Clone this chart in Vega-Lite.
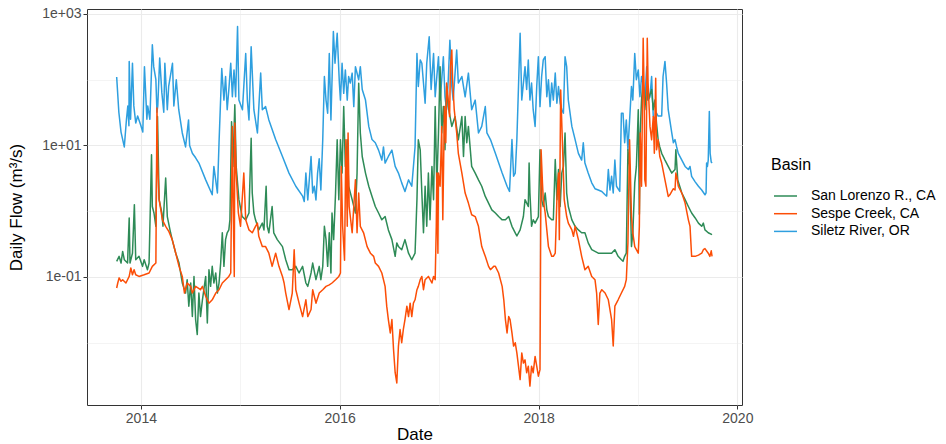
{
  "$schema": "https://vega.github.io/schema/vega-lite/v6.json",
  "width": 655,
  "height": 396,
  "autosize": {"type": "none"},
  "padding": {"left": 87, "top": 9, "right": 204, "bottom": 39},
  "background": "white",
  "config": {
    "view": {"stroke": "#333333", "strokeWidth": 1},
    "font": "Liberation Sans"
  },
  "data": {"values": [
{"basin":"Siletz River, OR","date":"2013-10-04","flow":110},{"basin":"Siletz River, OR","date":"2013-10-12","flow":32},{"basin":"Siletz River, OR","date":"2013-10-20","flow":16},{"basin":"Siletz River, OR","date":"2013-11-01","flow":9.5},{"basin":"Siletz River, OR","date":"2013-11-09","flow":25},{"basin":"Siletz River, OR","date":"2013-11-14","flow":40},{"basin":"Siletz River, OR","date":"2013-11-18","flow":20},{"basin":"Siletz River, OR","date":"2013-11-19","flow":190},{"basin":"Siletz River, OR","date":"2013-11-24","flow":25},{"basin":"Siletz River, OR","date":"2013-12-01","flow":178},{"basin":"Siletz River, OR","date":"2013-12-06","flow":40},{"basin":"Siletz River, OR","date":"2013-12-13","flow":22},{"basin":"Siletz River, OR","date":"2013-12-20","flow":28},{"basin":"Siletz River, OR","date":"2014-01-01","flow":20},{"basin":"Siletz River, OR","date":"2014-01-08","flow":16},{"basin":"Siletz River, OR","date":"2014-01-14","flow":158},{"basin":"Siletz River, OR","date":"2014-01-23","flow":25},{"basin":"Siletz River, OR","date":"2014-01-26","flow":40},{"basin":"Siletz River, OR","date":"2014-02-03","flow":25},{"basin":"Siletz River, OR","date":"2014-02-12","flow":340},{"basin":"Siletz River, OR","date":"2014-02-17","flow":158},{"basin":"Siletz River, OR","date":"2014-02-25","flow":100},{"basin":"Siletz River, OR","date":"2014-03-01","flow":32},{"basin":"Siletz River, OR","date":"2014-03-04","flow":40},{"basin":"Siletz River, OR","date":"2014-03-11","flow":214},{"basin":"Siletz River, OR","date":"2014-03-19","flow":63},{"basin":"Siletz River, OR","date":"2014-03-26","flow":32},{"basin":"Siletz River, OR","date":"2014-03-30","flow":178},{"basin":"Siletz River, OR","date":"2014-04-08","flow":35},{"basin":"Siletz River, OR","date":"2014-04-13","flow":79},{"basin":"Siletz River, OR","date":"2014-04-27","flow":178},{"basin":"Siletz River, OR","date":"2014-05-02","flow":40},{"basin":"Siletz River, OR","date":"2014-05-11","flow":100},{"basin":"Siletz River, OR","date":"2014-05-20","flow":35},{"basin":"Siletz River, OR","date":"2014-06-02","flow":15.5},{"basin":"Siletz River, OR","date":"2014-06-14","flow":9.5},{"basin":"Siletz River, OR","date":"2014-06-25","flow":24.5},{"basin":"Siletz River, OR","date":"2014-06-29","flow":10},{"basin":"Siletz River, OR","date":"2014-07-09","flow":7.6},{"basin":"Siletz River, OR","date":"2014-07-21","flow":6.5},{"basin":"Siletz River, OR","date":"2014-08-02","flow":5.4},{"basin":"Siletz River, OR","date":"2014-08-27","flow":3.0},{"basin":"Siletz River, OR","date":"2014-09-20","flow":1.78},{"basin":"Siletz River, OR","date":"2014-09-26","flow":4.8},{"basin":"Siletz River, OR","date":"2014-10-09","flow":1.9},{"basin":"Siletz River, OR","date":"2014-10-15","flow":11},{"basin":"Siletz River, OR","date":"2014-10-25","flow":148},{"basin":"Siletz River, OR","date":"2014-11-02","flow":49},{"basin":"Siletz River, OR","date":"2014-11-08","flow":112},{"basin":"Siletz River, OR","date":"2014-11-14","flow":35},{"basin":"Siletz River, OR","date":"2014-11-20","flow":71},{"basin":"Siletz River, OR","date":"2014-11-27","flow":178},{"basin":"Siletz River, OR","date":"2014-12-03","flow":55},{"basin":"Siletz River, OR","date":"2014-12-09","flow":141},{"basin":"Siletz River, OR","date":"2014-12-15","flow":55},{"basin":"Siletz River, OR","date":"2014-12-22","flow":646},{"basin":"Siletz River, OR","date":"2014-12-27","flow":49},{"basin":"Siletz River, OR","date":"2015-01-09","flow":35},{"basin":"Siletz River, OR","date":"2015-01-21","flow":251},{"basin":"Siletz River, OR","date":"2015-01-27","flow":49},{"basin":"Siletz River, OR","date":"2015-02-02","flow":24.5},{"basin":"Siletz River, OR","date":"2015-02-10","flow":316},{"basin":"Siletz River, OR","date":"2015-02-20","flow":35},{"basin":"Siletz River, OR","date":"2015-03-05","flow":15.5},{"basin":"Siletz River, OR","date":"2015-03-17","flow":126},{"basin":"Siletz River, OR","date":"2015-03-23","flow":35},{"basin":"Siletz River, OR","date":"2015-04-04","flow":39},{"basin":"Siletz River, OR","date":"2015-04-16","flow":24.5},{"basin":"Siletz River, OR","date":"2015-05-11","flow":12.3},{"basin":"Siletz River, OR","date":"2015-06-05","flow":6.8},{"basin":"Siletz River, OR","date":"2015-06-29","flow":3.8},{"basin":"Siletz River, OR","date":"2015-07-24","flow":2.4},{"basin":"Siletz River, OR","date":"2015-08-18","flow":1.7},{"basin":"Siletz River, OR","date":"2015-08-24","flow":1.41},{"basin":"Siletz River, OR","date":"2015-08-30","flow":3.8},{"basin":"Siletz River, OR","date":"2015-09-06","flow":1.48},{"basin":"Siletz River, OR","date":"2015-09-18","flow":6.8},{"basin":"Siletz River, OR","date":"2015-09-24","flow":1.9},{"basin":"Siletz River, OR","date":"2015-09-30","flow":2.4},{"basin":"Siletz River, OR","date":"2015-10-06","flow":1.48},{"basin":"Siletz River, OR","date":"2015-10-12","flow":3.8},{"basin":"Siletz River, OR","date":"2015-10-18","flow":6.3},{"basin":"Siletz River, OR","date":"2015-10-24","flow":2.1},{"basin":"Siletz River, OR","date":"2015-10-31","flow":12.3},{"basin":"Siletz River, OR","date":"2015-11-06","flow":112},{"basin":"Siletz River, OR","date":"2015-11-12","flow":49},{"basin":"Siletz River, OR","date":"2015-11-18","flow":31},{"basin":"Siletz River, OR","date":"2015-11-24","flow":251},{"basin":"Siletz River, OR","date":"2015-11-30","flow":24.5},{"basin":"Siletz River, OR","date":"2015-12-09","flow":540},{"basin":"Siletz River, OR","date":"2015-12-15","flow":178},{"basin":"Siletz River, OR","date":"2015-12-23","flow":510},{"basin":"Siletz River, OR","date":"2015-12-31","flow":89},{"basin":"Siletz River, OR","date":"2016-01-04","flow":49},{"basin":"Siletz River, OR","date":"2016-01-10","flow":178},{"basin":"Siletz River, OR","date":"2016-01-16","flow":62},{"basin":"Siletz River, OR","date":"2016-01-22","flow":141},{"basin":"Siletz River, OR","date":"2016-01-29","flow":49},{"basin":"Siletz River, OR","date":"2016-02-03","flow":112},{"basin":"Siletz River, OR","date":"2016-02-09","flow":89},{"basin":"Siletz River, OR","date":"2016-02-16","flow":126},{"basin":"Siletz River, OR","date":"2016-02-22","flow":39},{"basin":"Siletz River, OR","date":"2016-02-28","flow":158},{"basin":"Siletz River, OR","date":"2016-03-11","flow":100},{"basin":"Siletz River, OR","date":"2016-03-17","flow":158},{"basin":"Siletz River, OR","date":"2016-03-24","flow":71},{"basin":"Siletz River, OR","date":"2016-04-05","flow":49},{"basin":"Siletz River, OR","date":"2016-04-17","flow":19.5},{"basin":"Siletz River, OR","date":"2016-04-29","flow":12.3},{"basin":"Siletz River, OR","date":"2016-05-11","flow":11},{"basin":"Siletz River, OR","date":"2016-05-23","flow":8.5},{"basin":"Siletz River, OR","date":"2016-06-04","flow":6},{"basin":"Siletz River, OR","date":"2016-06-10","flow":9.5},{"basin":"Siletz River, OR","date":"2016-06-16","flow":5.4},{"basin":"Siletz River, OR","date":"2016-06-28","flow":6.8},{"basin":"Siletz River, OR","date":"2016-07-11","flow":8.5},{"basin":"Siletz River, OR","date":"2016-07-23","flow":4.8},{"basin":"Siletz River, OR","date":"2016-08-04","flow":3.8},{"basin":"Siletz River, OR","date":"2016-08-16","flow":2.7},{"basin":"Siletz River, OR","date":"2016-08-28","flow":2.0},{"basin":"Siletz River, OR","date":"2016-09-10","flow":3.0},{"basin":"Siletz River, OR","date":"2016-09-22","flow":2.4},{"basin":"Siletz River, OR","date":"2016-10-04","flow":9.5},{"basin":"Siletz River, OR","date":"2016-10-11","flow":251},{"basin":"Siletz River, OR","date":"2016-10-16","flow":79},{"basin":"Siletz River, OR","date":"2016-10-23","flow":200},{"basin":"Siletz River, OR","date":"2016-10-29","flow":178},{"basin":"Siletz River, OR","date":"2016-11-04","flow":89},{"basin":"Siletz River, OR","date":"2016-11-10","flow":44},{"basin":"Siletz River, OR","date":"2016-11-16","flow":178},{"basin":"Siletz River, OR","date":"2016-11-25","flow":450},{"basin":"Siletz River, OR","date":"2016-12-02","flow":71},{"basin":"Siletz River, OR","date":"2016-12-11","flow":251},{"basin":"Siletz River, OR","date":"2016-12-17","flow":55},{"basin":"Siletz River, OR","date":"2016-12-23","flow":112},{"basin":"Siletz River, OR","date":"2016-12-29","flow":224},{"basin":"Siletz River, OR","date":"2017-01-04","flow":49},{"basin":"Siletz River, OR","date":"2017-01-10","flow":100},{"basin":"Siletz River, OR","date":"2017-01-16","flow":224},{"basin":"Siletz River, OR","date":"2017-01-22","flow":55},{"basin":"Siletz River, OR","date":"2017-01-28","flow":35},{"basin":"Siletz River, OR","date":"2017-02-03","flow":100},{"basin":"Siletz River, OR","date":"2017-02-09","flow":400},{"basin":"Siletz River, OR","date":"2017-02-16","flow":79},{"basin":"Siletz River, OR","date":"2017-02-21","flow":49},{"basin":"Siletz River, OR","date":"2017-02-28","flow":126},{"basin":"Siletz River, OR","date":"2017-03-06","flow":282},{"basin":"Siletz River, OR","date":"2017-03-12","flow":89},{"basin":"Siletz River, OR","date":"2017-03-25","flow":112},{"basin":"Siletz River, OR","date":"2017-04-06","flow":55},{"basin":"Siletz River, OR","date":"2017-04-18","flow":126},{"basin":"Siletz River, OR","date":"2017-04-30","flow":35},{"basin":"Siletz River, OR","date":"2017-05-13","flow":49},{"basin":"Siletz River, OR","date":"2017-05-25","flow":15.5},{"basin":"Siletz River, OR","date":"2017-06-06","flow":19.5},{"basin":"Siletz River, OR","date":"2017-06-19","flow":39},{"basin":"Siletz River, OR","date":"2017-06-25","flow":15.5},{"basin":"Siletz River, OR","date":"2017-07-08","flow":12.3},{"basin":"Siletz River, OR","date":"2017-07-26","flow":7.6},{"basin":"Siletz River, OR","date":"2017-08-20","flow":3.8},{"basin":"Siletz River, OR","date":"2017-09-07","flow":2.4},{"basin":"Siletz River, OR","date":"2017-09-16","flow":2.0},{"basin":"Siletz River, OR","date":"2017-09-25","flow":12.3},{"basin":"Siletz River, OR","date":"2017-10-01","flow":3.4},{"basin":"Siletz River, OR","date":"2017-10-07","flow":3.8},{"basin":"Siletz River, OR","date":"2017-10-13","flow":12.3},{"basin":"Siletz River, OR","date":"2017-10-19","flow":79},{"basin":"Siletz River, OR","date":"2017-10-25","flow":510},{"basin":"Siletz River, OR","date":"2017-10-31","flow":49},{"basin":"Siletz River, OR","date":"2017-11-12","flow":158},{"basin":"Siletz River, OR","date":"2017-11-18","flow":71},{"basin":"Siletz River, OR","date":"2017-11-24","flow":200},{"basin":"Siletz River, OR","date":"2017-11-30","flow":49},{"basin":"Siletz River, OR","date":"2017-12-06","flow":89},{"basin":"Siletz River, OR","date":"2017-12-12","flow":35},{"basin":"Siletz River, OR","date":"2017-12-19","flow":19.5},{"basin":"Siletz River, OR","date":"2017-12-25","flow":79},{"basin":"Siletz River, OR","date":"2017-12-31","flow":224},{"basin":"Siletz River, OR","date":"2018-01-06","flow":39},{"basin":"Siletz River, OR","date":"2018-01-12","flow":112},{"basin":"Siletz River, OR","date":"2018-01-18","flow":200},{"basin":"Siletz River, OR","date":"2018-01-25","flow":224},{"basin":"Siletz River, OR","date":"2018-01-31","flow":55},{"basin":"Siletz River, OR","date":"2018-02-06","flow":100},{"basin":"Siletz River, OR","date":"2018-02-12","flow":39},{"basin":"Siletz River, OR","date":"2018-02-18","flow":89},{"basin":"Siletz River, OR","date":"2018-02-24","flow":49},{"basin":"Siletz River, OR","date":"2018-03-03","flow":126},{"basin":"Siletz River, OR","date":"2018-03-09","flow":44},{"basin":"Siletz River, OR","date":"2018-03-15","flow":79},{"basin":"Siletz River, OR","date":"2018-03-21","flow":44},{"basin":"Siletz River, OR","date":"2018-03-27","flow":35},{"basin":"Siletz River, OR","date":"2018-04-02","flow":31},{"basin":"Siletz River, OR","date":"2018-04-08","flow":224},{"basin":"Siletz River, OR","date":"2018-04-14","flow":158},{"basin":"Siletz River, OR","date":"2018-04-20","flow":49},{"basin":"Siletz River, OR","date":"2018-05-03","flow":19.5},{"basin":"Siletz River, OR","date":"2018-05-15","flow":12.3},{"basin":"Siletz River, OR","date":"2018-05-27","flow":7.6},{"basin":"Siletz River, OR","date":"2018-06-08","flow":6},{"basin":"Siletz River, OR","date":"2018-06-14","flow":11},{"basin":"Siletz River, OR","date":"2018-06-20","flow":5.4},{"basin":"Siletz River, OR","date":"2018-07-02","flow":3.8},{"basin":"Siletz River, OR","date":"2018-07-15","flow":2.7},{"basin":"Siletz River, OR","date":"2018-07-27","flow":2.2},{"basin":"Siletz River, OR","date":"2018-08-08","flow":2.1},{"basin":"Siletz River, OR","date":"2018-08-21","flow":2.0},{"basin":"Siletz River, OR","date":"2018-09-02","flow":1.78},{"basin":"Siletz River, OR","date":"2018-09-08","flow":1.7},{"basin":"Siletz River, OR","date":"2018-09-14","flow":4.3},{"basin":"Siletz River, OR","date":"2018-09-20","flow":2.1},{"basin":"Siletz River, OR","date":"2018-09-26","flow":3.4},{"basin":"Siletz River, OR","date":"2018-10-02","flow":1.9},{"basin":"Siletz River, OR","date":"2018-10-08","flow":6},{"basin":"Siletz River, OR","date":"2018-10-14","flow":2.4},{"basin":"Siletz River, OR","date":"2018-10-26","flow":2.0},{"basin":"Siletz River, OR","date":"2018-11-01","flow":31},{"basin":"Siletz River, OR","date":"2018-11-07","flow":31},{"basin":"Siletz River, OR","date":"2018-11-13","flow":11},{"basin":"Siletz River, OR","date":"2018-11-19","flow":24.5},{"basin":"Siletz River, OR","date":"2018-11-25","flow":8.5},{"basin":"Siletz River, OR","date":"2018-12-08","flow":79},{"basin":"Siletz River, OR","date":"2018-12-13","flow":49},{"basin":"Siletz River, OR","date":"2018-12-20","flow":251},{"basin":"Siletz River, OR","date":"2018-12-26","flow":100},{"basin":"Siletz River, OR","date":"2019-01-02","flow":141},{"basin":"Siletz River, OR","date":"2019-01-08","flow":55},{"basin":"Siletz River, OR","date":"2019-01-14","flow":112},{"basin":"Siletz River, OR","date":"2019-01-20","flow":89},{"basin":"Siletz River, OR","date":"2019-01-26","flow":49},{"basin":"Siletz River, OR","date":"2019-02-02","flow":158},{"basin":"Siletz River, OR","date":"2019-02-07","flow":49},{"basin":"Siletz River, OR","date":"2019-02-14","flow":55},{"basin":"Siletz River, OR","date":"2019-02-20","flow":112},{"basin":"Siletz River, OR","date":"2019-02-26","flow":28},{"basin":"Siletz River, OR","date":"2019-03-04","flow":24.5},{"basin":"Siletz River, OR","date":"2019-03-10","flow":31},{"basin":"Siletz River, OR","date":"2019-03-16","flow":28},{"basin":"Siletz River, OR","date":"2019-03-29","flow":28},{"basin":"Siletz River, OR","date":"2019-04-03","flow":112},{"basin":"Siletz River, OR","date":"2019-04-10","flow":190},{"basin":"Siletz River, OR","date":"2019-04-16","flow":89},{"basin":"Siletz River, OR","date":"2019-04-22","flow":35},{"basin":"Siletz River, OR","date":"2019-05-05","flow":15.5},{"basin":"Siletz River, OR","date":"2019-05-11","flow":11},{"basin":"Siletz River, OR","date":"2019-05-17","flow":12.3},{"basin":"Siletz River, OR","date":"2019-05-23","flow":9.5},{"basin":"Siletz River, OR","date":"2019-05-29","flow":7.6},{"basin":"Siletz River, OR","date":"2019-06-11","flow":6},{"basin":"Siletz River, OR","date":"2019-06-23","flow":4.8},{"basin":"Siletz River, OR","date":"2019-07-05","flow":4.3},{"basin":"Siletz River, OR","date":"2019-07-11","flow":4.8},{"basin":"Siletz River, OR","date":"2019-07-17","flow":3.4},{"basin":"Siletz River, OR","date":"2019-07-30","flow":2.8},{"basin":"Siletz River, OR","date":"2019-08-11","flow":2.4},{"basin":"Siletz River, OR","date":"2019-08-23","flow":2.1},{"basin":"Siletz River, OR","date":"2019-09-04","flow":1.78},{"basin":"Siletz River, OR","date":"2019-09-08","flow":1.9},{"basin":"Siletz River, OR","date":"2019-09-10","flow":5.4},{"basin":"Siletz River, OR","date":"2019-09-13","flow":4.8},{"basin":"Siletz River, OR","date":"2019-09-16","flow":6},{"basin":"Siletz River, OR","date":"2019-09-20","flow":33},{"basin":"Siletz River, OR","date":"2019-09-23","flow":7.6},{"basin":"Siletz River, OR","date":"2019-09-27","flow":5.6},{"basin":"Siletz River, OR","date":"2019-09-30","flow":5.4},
{"basin":"San Lorenzo R., CA","date":"2013-10-04","flow":0.173},{"basin":"San Lorenzo R., CA","date":"2013-10-13","flow":0.206},{"basin":"San Lorenzo R., CA","date":"2013-10-20","flow":0.163},{"basin":"San Lorenzo R., CA","date":"2013-10-26","flow":0.245},{"basin":"San Lorenzo R., CA","date":"2013-11-01","flow":0.183},{"basin":"San Lorenzo R., CA","date":"2013-11-13","flow":0.163},{"basin":"San Lorenzo R., CA","date":"2013-11-19","flow":0.79},{"basin":"San Lorenzo R., CA","date":"2013-11-22","flow":0.163},{"basin":"San Lorenzo R., CA","date":"2013-12-01","flow":0.23},{"basin":"San Lorenzo R., CA","date":"2013-12-08","flow":1.26},{"basin":"San Lorenzo R., CA","date":"2013-12-13","flow":0.183},{"basin":"San Lorenzo R., CA","date":"2013-12-25","flow":0.206},{"basin":"San Lorenzo R., CA","date":"2014-01-07","flow":0.145},{"basin":"San Lorenzo R., CA","date":"2014-01-13","flow":0.183},{"basin":"San Lorenzo R., CA","date":"2014-01-25","flow":0.129},{"basin":"San Lorenzo R., CA","date":"2014-01-31","flow":0.163},{"basin":"San Lorenzo R., CA","date":"2014-02-09","flow":7.2},{"basin":"San Lorenzo R., CA","date":"2014-02-12","flow":1.18},{"basin":"San Lorenzo R., CA","date":"2014-02-18","flow":0.94},{"basin":"San Lorenzo R., CA","date":"2014-02-25","flow":0.59},{"basin":"San Lorenzo R., CA","date":"2014-03-03","flow":27.5},{"basin":"San Lorenzo R., CA","date":"2014-03-09","flow":1.5},{"basin":"San Lorenzo R., CA","date":"2014-03-19","flow":0.94},{"basin":"San Lorenzo R., CA","date":"2014-03-23","flow":0.59},{"basin":"San Lorenzo R., CA","date":"2014-04-02","flow":3.2},{"basin":"San Lorenzo R., CA","date":"2014-04-08","flow":0.83},{"basin":"San Lorenzo R., CA","date":"2014-04-20","flow":0.47},{"basin":"San Lorenzo R., CA","date":"2014-04-26","flow":0.37},{"basin":"San Lorenzo R., CA","date":"2014-05-09","flow":0.23},{"basin":"San Lorenzo R., CA","date":"2014-05-21","flow":0.163},{"basin":"San Lorenzo R., CA","date":"2014-06-02","flow":0.081},{"basin":"San Lorenzo R., CA","date":"2014-06-14","flow":0.057},{"basin":"San Lorenzo R., CA","date":"2014-06-20","flow":0.091},{"basin":"San Lorenzo R., CA","date":"2014-06-26","flow":0.036},{"basin":"San Lorenzo R., CA","date":"2014-07-03","flow":0.081},{"basin":"San Lorenzo R., CA","date":"2014-07-09","flow":0.025},{"basin":"San Lorenzo R., CA","date":"2014-07-15","flow":0.102},{"basin":"San Lorenzo R., CA","date":"2014-07-21","flow":0.0225},{"basin":"San Lorenzo R., CA","date":"2014-07-27","flow":0.0133},{"basin":"San Lorenzo R., CA","date":"2014-08-02","flow":0.057},{"basin":"San Lorenzo R., CA","date":"2014-08-08","flow":0.025},{"basin":"San Lorenzo R., CA","date":"2014-08-15","flow":0.045},{"basin":"San Lorenzo R., CA","date":"2014-08-27","flow":0.102},{"basin":"San Lorenzo R., CA","date":"2014-09-02","flow":0.02},{"basin":"San Lorenzo R., CA","date":"2014-09-08","flow":0.129},{"basin":"San Lorenzo R., CA","date":"2014-09-14","flow":0.072},{"basin":"San Lorenzo R., CA","date":"2014-09-20","flow":0.145},{"basin":"San Lorenzo R., CA","date":"2014-09-26","flow":0.081},{"basin":"San Lorenzo R., CA","date":"2014-10-03","flow":0.115},{"basin":"San Lorenzo R., CA","date":"2014-10-09","flow":0.057},{"basin":"San Lorenzo R., CA","date":"2014-10-15","flow":0.081},{"basin":"San Lorenzo R., CA","date":"2014-10-21","flow":0.163},{"basin":"San Lorenzo R., CA","date":"2014-10-27","flow":0.47},{"basin":"San Lorenzo R., CA","date":"2014-11-02","flow":0.145},{"basin":"San Lorenzo R., CA","date":"2014-11-08","flow":0.37},{"basin":"San Lorenzo R., CA","date":"2014-11-14","flow":0.47},{"basin":"San Lorenzo R., CA","date":"2014-11-20","flow":0.52},{"basin":"San Lorenzo R., CA","date":"2014-11-24","flow":0.74},{"basin":"San Lorenzo R., CA","date":"2014-11-30","flow":23},{"basin":"San Lorenzo R., CA","date":"2014-12-05","flow":4.8},{"basin":"San Lorenzo R., CA","date":"2014-12-12","flow":41.5},{"basin":"San Lorenzo R., CA","date":"2014-12-17","flow":4.8},{"basin":"San Lorenzo R., CA","date":"2014-12-27","flow":1.5},{"basin":"San Lorenzo R., CA","date":"2015-01-08","flow":0.83},{"basin":"San Lorenzo R., CA","date":"2015-01-21","flow":0.74},{"basin":"San Lorenzo R., CA","date":"2015-02-02","flow":0.94},{"basin":"San Lorenzo R., CA","date":"2015-02-10","flow":12.9},{"basin":"San Lorenzo R., CA","date":"2015-02-14","flow":1.89},{"basin":"San Lorenzo R., CA","date":"2015-02-20","flow":0.94},{"basin":"San Lorenzo R., CA","date":"2015-02-26","flow":0.74},{"basin":"San Lorenzo R., CA","date":"2015-03-10","flow":0.52},{"basin":"San Lorenzo R., CA","date":"2015-03-23","flow":0.66},{"basin":"San Lorenzo R., CA","date":"2015-03-29","flow":0.52},{"basin":"San Lorenzo R., CA","date":"2015-04-06","flow":2.4},{"basin":"San Lorenzo R., CA","date":"2015-04-10","flow":0.59},{"basin":"San Lorenzo R., CA","date":"2015-04-16","flow":0.47},{"basin":"San Lorenzo R., CA","date":"2015-04-28","flow":1.18},{"basin":"San Lorenzo R., CA","date":"2015-05-04","flow":0.47},{"basin":"San Lorenzo R., CA","date":"2015-05-17","flow":0.37},{"basin":"San Lorenzo R., CA","date":"2015-06-05","flow":0.29},{"basin":"San Lorenzo R., CA","date":"2015-06-17","flow":0.183},{"basin":"San Lorenzo R., CA","date":"2015-06-29","flow":0.129},{"basin":"San Lorenzo R., CA","date":"2015-07-11","flow":0.129},{"basin":"San Lorenzo R., CA","date":"2015-07-24","flow":0.145},{"basin":"San Lorenzo R., CA","date":"2015-08-05","flow":0.115},{"basin":"San Lorenzo R., CA","date":"2015-08-18","flow":0.145},{"basin":"San Lorenzo R., CA","date":"2015-08-30","flow":0.081},{"basin":"San Lorenzo R., CA","date":"2015-09-06","flow":0.072},{"basin":"San Lorenzo R., CA","date":"2015-09-18","flow":0.115},{"basin":"San Lorenzo R., CA","date":"2015-09-24","flow":0.163},{"basin":"San Lorenzo R., CA","date":"2015-10-06","flow":0.091},{"basin":"San Lorenzo R., CA","date":"2015-10-18","flow":0.145},{"basin":"San Lorenzo R., CA","date":"2015-10-24","flow":0.091},{"basin":"San Lorenzo R., CA","date":"2015-10-31","flow":0.145},{"basin":"San Lorenzo R., CA","date":"2015-11-06","flow":0.59},{"basin":"San Lorenzo R., CA","date":"2015-11-12","flow":0.37},{"basin":"San Lorenzo R., CA","date":"2015-11-18","flow":0.145},{"basin":"San Lorenzo R., CA","date":"2015-11-24","flow":0.47},{"basin":"San Lorenzo R., CA","date":"2015-11-30","flow":0.115},{"basin":"San Lorenzo R., CA","date":"2015-12-04","flow":0.94},{"basin":"San Lorenzo R., CA","date":"2015-12-10","flow":0.37},{"basin":"San Lorenzo R., CA","date":"2015-12-17","flow":1.89},{"basin":"San Lorenzo R., CA","date":"2015-12-23","flow":12.2},{"basin":"San Lorenzo R., CA","date":"2015-12-29","flow":1.5},{"basin":"San Lorenzo R., CA","date":"2016-01-04","flow":12.2},{"basin":"San Lorenzo R., CA","date":"2016-01-10","flow":3.8},{"basin":"San Lorenzo R., CA","date":"2016-01-16","flow":39},{"basin":"San Lorenzo R., CA","date":"2016-01-22","flow":4.8},{"basin":"San Lorenzo R., CA","date":"2016-01-29","flow":12.2},{"basin":"San Lorenzo R., CA","date":"2016-02-03","flow":2.4},{"basin":"San Lorenzo R., CA","date":"2016-02-16","flow":1.5},{"basin":"San Lorenzo R., CA","date":"2016-02-28","flow":0.94},{"basin":"San Lorenzo R., CA","date":"2016-03-05","flow":3.8},{"basin":"San Lorenzo R., CA","date":"2016-03-11","flow":88},{"basin":"San Lorenzo R., CA","date":"2016-03-17","flow":15.5},{"basin":"San Lorenzo R., CA","date":"2016-03-24","flow":6.8},{"basin":"San Lorenzo R., CA","date":"2016-04-05","flow":3.8},{"basin":"San Lorenzo R., CA","date":"2016-04-17","flow":2.4},{"basin":"San Lorenzo R., CA","date":"2016-04-29","flow":1.68},{"basin":"San Lorenzo R., CA","date":"2016-05-11","flow":1.18},{"basin":"San Lorenzo R., CA","date":"2016-05-23","flow":0.94},{"basin":"San Lorenzo R., CA","date":"2016-06-04","flow":0.74},{"basin":"San Lorenzo R., CA","date":"2016-06-16","flow":0.83},{"basin":"San Lorenzo R., CA","date":"2016-06-28","flow":0.52},{"basin":"San Lorenzo R., CA","date":"2016-07-11","flow":0.37},{"basin":"San Lorenzo R., CA","date":"2016-07-23","flow":0.206},{"basin":"San Lorenzo R., CA","date":"2016-07-29","flow":0.33},{"basin":"San Lorenzo R., CA","date":"2016-08-04","flow":0.29},{"basin":"San Lorenzo R., CA","date":"2016-08-16","flow":0.26},{"basin":"San Lorenzo R., CA","date":"2016-08-28","flow":0.37},{"basin":"San Lorenzo R., CA","date":"2016-09-10","flow":0.23},{"basin":"San Lorenzo R., CA","date":"2016-09-22","flow":0.183},{"basin":"San Lorenzo R., CA","date":"2016-10-04","flow":0.23},{"basin":"San Lorenzo R., CA","date":"2016-10-11","flow":1.5},{"basin":"San Lorenzo R., CA","date":"2016-10-16","flow":12.2},{"basin":"San Lorenzo R., CA","date":"2016-10-23","flow":8.6},{"basin":"San Lorenzo R., CA","date":"2016-10-29","flow":1.89},{"basin":"San Lorenzo R., CA","date":"2016-11-04","flow":0.47},{"basin":"San Lorenzo R., CA","date":"2016-11-10","flow":2.4},{"basin":"San Lorenzo R., CA","date":"2016-11-16","flow":0.59},{"basin":"San Lorenzo R., CA","date":"2016-11-22","flow":3.8},{"basin":"San Lorenzo R., CA","date":"2016-11-28","flow":0.74},{"basin":"San Lorenzo R., CA","date":"2016-12-05","flow":4.8},{"basin":"San Lorenzo R., CA","date":"2016-12-11","flow":1.5},{"basin":"San Lorenzo R., CA","date":"2016-12-17","flow":39},{"basin":"San Lorenzo R., CA","date":"2016-12-23","flow":2.4},{"basin":"San Lorenzo R., CA","date":"2016-12-29","flow":15.5},{"basin":"San Lorenzo R., CA","date":"2017-01-04","flow":158},{"basin":"San Lorenzo R., CA","date":"2017-01-10","flow":15.5},{"basin":"San Lorenzo R., CA","date":"2017-01-16","flow":39},{"basin":"San Lorenzo R., CA","date":"2017-01-22","flow":8.6},{"basin":"San Lorenzo R., CA","date":"2017-01-28","flow":79},{"basin":"San Lorenzo R., CA","date":"2017-02-03","flow":39},{"basin":"San Lorenzo R., CA","date":"2017-02-16","flow":19.5},{"basin":"San Lorenzo R., CA","date":"2017-02-28","flow":27.5},{"basin":"San Lorenzo R., CA","date":"2017-03-12","flow":12.2},{"basin":"San Lorenzo R., CA","date":"2017-03-25","flow":27.5},{"basin":"San Lorenzo R., CA","date":"2017-03-31","flow":6.8},{"basin":"San Lorenzo R., CA","date":"2017-04-06","flow":27.5},{"basin":"San Lorenzo R., CA","date":"2017-04-12","flow":11},{"basin":"San Lorenzo R., CA","date":"2017-04-18","flow":19.5},{"basin":"San Lorenzo R., CA","date":"2017-04-30","flow":4.8},{"basin":"San Lorenzo R., CA","date":"2017-05-13","flow":3.8},{"basin":"San Lorenzo R., CA","date":"2017-05-25","flow":3.0},{"basin":"San Lorenzo R., CA","date":"2017-06-06","flow":2.4},{"basin":"San Lorenzo R., CA","date":"2017-06-19","flow":1.68},{"basin":"San Lorenzo R., CA","date":"2017-07-01","flow":1.33},{"basin":"San Lorenzo R., CA","date":"2017-07-13","flow":1.05},{"basin":"San Lorenzo R., CA","date":"2017-07-26","flow":0.94},{"basin":"San Lorenzo R., CA","date":"2017-08-07","flow":0.83},{"basin":"San Lorenzo R., CA","date":"2017-08-20","flow":0.74},{"basin":"San Lorenzo R., CA","date":"2017-09-01","flow":0.74},{"basin":"San Lorenzo R., CA","date":"2017-09-13","flow":0.83},{"basin":"San Lorenzo R., CA","date":"2017-09-25","flow":0.59},{"basin":"San Lorenzo R., CA","date":"2017-10-07","flow":0.47},{"basin":"San Lorenzo R., CA","date":"2017-10-13","flow":0.42},{"basin":"San Lorenzo R., CA","date":"2017-10-25","flow":0.52},{"basin":"San Lorenzo R., CA","date":"2017-11-06","flow":0.83},{"basin":"San Lorenzo R., CA","date":"2017-11-12","flow":1.5},{"basin":"San Lorenzo R., CA","date":"2017-11-24","flow":1.18},{"basin":"San Lorenzo R., CA","date":"2017-11-27","flow":5.4},{"basin":"San Lorenzo R., CA","date":"2017-11-30","flow":1.89},{"basin":"San Lorenzo R., CA","date":"2017-12-06","flow":0.59},{"basin":"San Lorenzo R., CA","date":"2017-12-12","flow":0.74},{"basin":"San Lorenzo R., CA","date":"2017-12-19","flow":0.66},{"basin":"San Lorenzo R., CA","date":"2017-12-25","flow":0.74},{"basin":"San Lorenzo R., CA","date":"2017-12-31","flow":0.83},{"basin":"San Lorenzo R., CA","date":"2018-01-06","flow":8.6},{"basin":"San Lorenzo R., CA","date":"2018-01-12","flow":1.5},{"basin":"San Lorenzo R., CA","date":"2018-01-18","flow":1.18},{"basin":"San Lorenzo R., CA","date":"2018-01-25","flow":1.89},{"basin":"San Lorenzo R., CA","date":"2018-01-31","flow":1.05},{"basin":"San Lorenzo R., CA","date":"2018-02-06","flow":0.83},{"basin":"San Lorenzo R., CA","date":"2018-02-18","flow":0.74},{"basin":"San Lorenzo R., CA","date":"2018-02-24","flow":0.74},{"basin":"San Lorenzo R., CA","date":"2018-03-03","flow":6.1},{"basin":"San Lorenzo R., CA","date":"2018-03-09","flow":1.5},{"basin":"San Lorenzo R., CA","date":"2018-03-15","flow":4.3},{"basin":"San Lorenzo R., CA","date":"2018-03-21","flow":1.18},{"basin":"San Lorenzo R., CA","date":"2018-03-27","flow":3.8},{"basin":"San Lorenzo R., CA","date":"2018-04-02","flow":4.8},{"basin":"San Lorenzo R., CA","date":"2018-04-08","flow":15.5},{"basin":"San Lorenzo R., CA","date":"2018-04-14","flow":1.89},{"basin":"San Lorenzo R., CA","date":"2018-04-20","flow":1.18},{"basin":"San Lorenzo R., CA","date":"2018-05-03","flow":0.74},{"basin":"San Lorenzo R., CA","date":"2018-05-15","flow":0.59},{"basin":"San Lorenzo R., CA","date":"2018-05-27","flow":0.52},{"basin":"San Lorenzo R., CA","date":"2018-06-08","flow":0.47},{"basin":"San Lorenzo R., CA","date":"2018-06-20","flow":0.47},{"basin":"San Lorenzo R., CA","date":"2018-07-02","flow":0.33},{"basin":"San Lorenzo R., CA","date":"2018-07-15","flow":0.26},{"basin":"San Lorenzo R., CA","date":"2018-08-08","flow":0.23},{"basin":"San Lorenzo R., CA","date":"2018-09-02","flow":0.23},{"basin":"San Lorenzo R., CA","date":"2018-09-26","flow":0.23},{"basin":"San Lorenzo R., CA","date":"2018-10-08","flow":0.26},{"basin":"San Lorenzo R., CA","date":"2018-10-20","flow":0.206},{"basin":"San Lorenzo R., CA","date":"2018-11-01","flow":0.183},{"basin":"San Lorenzo R., CA","date":"2018-11-07","flow":0.173},{"basin":"San Lorenzo R., CA","date":"2018-11-13","flow":0.206},{"basin":"San Lorenzo R., CA","date":"2018-11-19","flow":0.23},{"basin":"San Lorenzo R., CA","date":"2018-11-25","flow":8.6},{"basin":"San Lorenzo R., CA","date":"2018-12-01","flow":4.8},{"basin":"San Lorenzo R., CA","date":"2018-12-08","flow":0.29},{"basin":"San Lorenzo R., CA","date":"2018-12-13","flow":0.47},{"basin":"San Lorenzo R., CA","date":"2018-12-20","flow":2.7},{"basin":"San Lorenzo R., CA","date":"2018-12-26","flow":4.8},{"basin":"San Lorenzo R., CA","date":"2019-01-02","flow":35},{"basin":"San Lorenzo R., CA","date":"2019-01-06","flow":0.9},{"basin":"San Lorenzo R., CA","date":"2019-01-09","flow":15.5},{"basin":"San Lorenzo R., CA","date":"2019-01-14","flow":49},{"basin":"San Lorenzo R., CA","date":"2019-01-20","flow":100},{"basin":"San Lorenzo R., CA","date":"2019-01-26","flow":35},{"basin":"San Lorenzo R., CA","date":"2019-02-02","flow":79},{"basin":"San Lorenzo R., CA","date":"2019-02-07","flow":49},{"basin":"San Lorenzo R., CA","date":"2019-02-20","flow":71},{"basin":"San Lorenzo R., CA","date":"2019-02-26","flow":35},{"basin":"San Lorenzo R., CA","date":"2019-03-04","flow":49},{"basin":"San Lorenzo R., CA","date":"2019-03-10","flow":21.7},{"basin":"San Lorenzo R., CA","date":"2019-03-16","flow":12.2},{"basin":"San Lorenzo R., CA","date":"2019-03-22","flow":9.5},{"basin":"San Lorenzo R., CA","date":"2019-03-29","flow":7.6},{"basin":"San Lorenzo R., CA","date":"2019-04-10","flow":6.0},{"basin":"San Lorenzo R., CA","date":"2019-04-22","flow":4.8},{"basin":"San Lorenzo R., CA","date":"2019-05-05","flow":3.8},{"basin":"San Lorenzo R., CA","date":"2019-05-17","flow":4.3},{"basin":"San Lorenzo R., CA","date":"2019-05-20","flow":8.6},{"basin":"San Lorenzo R., CA","date":"2019-05-27","flow":3.0},{"basin":"San Lorenzo R., CA","date":"2019-06-11","flow":1.89},{"basin":"San Lorenzo R., CA","date":"2019-06-23","flow":1.5},{"basin":"San Lorenzo R., CA","date":"2019-07-05","flow":1.18},{"basin":"San Lorenzo R., CA","date":"2019-07-17","flow":0.94},{"basin":"San Lorenzo R., CA","date":"2019-07-30","flow":0.79},{"basin":"San Lorenzo R., CA","date":"2019-08-11","flow":0.66},{"basin":"San Lorenzo R., CA","date":"2019-08-23","flow":0.59},{"basin":"San Lorenzo R., CA","date":"2019-08-29","flow":0.66},{"basin":"San Lorenzo R., CA","date":"2019-09-04","flow":0.52},{"basin":"San Lorenzo R., CA","date":"2019-09-16","flow":0.47},{"basin":"San Lorenzo R., CA","date":"2019-09-30","flow":0.44},
{"basin":"Sespe Creek, CA","date":"2013-10-04","flow":0.068},{"basin":"Sespe Creek, CA","date":"2013-10-08","flow":0.081},{"basin":"Sespe Creek, CA","date":"2013-10-13","flow":0.097},{"basin":"Sespe Creek, CA","date":"2013-10-20","flow":0.086},{"basin":"Sespe Creek, CA","date":"2013-10-26","flow":0.091},{"basin":"Sespe Creek, CA","date":"2013-11-07","flow":0.081},{"basin":"Sespe Creek, CA","date":"2013-11-19","flow":0.102},{"basin":"Sespe Creek, CA","date":"2013-11-25","flow":0.137},{"basin":"Sespe Creek, CA","date":"2013-12-01","flow":0.108},{"basin":"Sespe Creek, CA","date":"2013-12-07","flow":0.129},{"basin":"Sespe Creek, CA","date":"2013-12-13","flow":0.108},{"basin":"Sespe Creek, CA","date":"2013-12-25","flow":0.102},{"basin":"Sespe Creek, CA","date":"2014-01-13","flow":0.108},{"basin":"Sespe Creek, CA","date":"2014-01-31","flow":0.115},{"basin":"Sespe Creek, CA","date":"2014-02-12","flow":0.145},{"basin":"Sespe Creek, CA","date":"2014-02-25","flow":0.163},{"basin":"Sespe Creek, CA","date":"2014-03-01","flow":37},{"basin":"Sespe Creek, CA","date":"2014-03-04","flow":4.8},{"basin":"Sespe Creek, CA","date":"2014-03-09","flow":1.5},{"basin":"Sespe Creek, CA","date":"2014-03-21","flow":0.74},{"basin":"Sespe Creek, CA","date":"2014-04-02","flow":0.59},{"basin":"Sespe Creek, CA","date":"2014-04-14","flow":0.49},{"basin":"Sespe Creek, CA","date":"2014-04-26","flow":0.37},{"basin":"Sespe Creek, CA","date":"2014-05-09","flow":0.23},{"basin":"Sespe Creek, CA","date":"2014-05-21","flow":0.145},{"basin":"Sespe Creek, CA","date":"2014-06-02","flow":0.102},{"basin":"Sespe Creek, CA","date":"2014-06-10","flow":0.057},{"basin":"Sespe Creek, CA","date":"2014-06-20","flow":0.081},{"basin":"Sespe Creek, CA","date":"2014-07-03","flow":0.072},{"basin":"Sespe Creek, CA","date":"2014-07-09","flow":0.057},{"basin":"Sespe Creek, CA","date":"2014-07-21","flow":0.072},{"basin":"Sespe Creek, CA","date":"2014-08-08","flow":0.064},{"basin":"Sespe Creek, CA","date":"2014-08-15","flow":0.072},{"basin":"Sespe Creek, CA","date":"2014-08-27","flow":0.051},{"basin":"Sespe Creek, CA","date":"2014-09-08","flow":0.040},{"basin":"Sespe Creek, CA","date":"2014-09-20","flow":0.045},{"basin":"Sespe Creek, CA","date":"2014-10-03","flow":0.057},{"basin":"Sespe Creek, CA","date":"2014-10-15","flow":0.064},{"basin":"Sespe Creek, CA","date":"2014-10-27","flow":0.081},{"basin":"Sespe Creek, CA","date":"2014-11-08","flow":0.091},{"basin":"Sespe Creek, CA","date":"2014-11-20","flow":0.102},{"basin":"Sespe Creek, CA","date":"2014-11-27","flow":0.115},{"basin":"Sespe Creek, CA","date":"2014-12-03","flow":19.5},{"basin":"Sespe Creek, CA","date":"2014-12-06","flow":1.18},{"basin":"Sespe Creek, CA","date":"2014-12-10","flow":0.102},{"basin":"Sespe Creek, CA","date":"2014-12-12","flow":22},{"basin":"Sespe Creek, CA","date":"2014-12-17","flow":3.8},{"basin":"Sespe Creek, CA","date":"2014-12-25","flow":0.94},{"basin":"Sespe Creek, CA","date":"2015-01-02","flow":0.59},{"basin":"Sespe Creek, CA","date":"2015-01-08","flow":1.5},{"basin":"Sespe Creek, CA","date":"2015-01-14","flow":3.8},{"basin":"Sespe Creek, CA","date":"2015-01-21","flow":0.74},{"basin":"Sespe Creek, CA","date":"2015-02-02","flow":0.52},{"basin":"Sespe Creek, CA","date":"2015-02-14","flow":0.47},{"basin":"Sespe Creek, CA","date":"2015-02-26","flow":0.59},{"basin":"Sespe Creek, CA","date":"2015-03-05","flow":0.66},{"basin":"Sespe Creek, CA","date":"2015-03-10","flow":0.415},{"basin":"Sespe Creek, CA","date":"2015-03-23","flow":0.29},{"basin":"Sespe Creek, CA","date":"2015-04-04","flow":0.29},{"basin":"Sespe Creek, CA","date":"2015-04-16","flow":0.23},{"basin":"Sespe Creek, CA","date":"2015-04-28","flow":0.145},{"basin":"Sespe Creek, CA","date":"2015-05-11","flow":0.23},{"basin":"Sespe Creek, CA","date":"2015-05-23","flow":0.145},{"basin":"Sespe Creek, CA","date":"2015-06-05","flow":0.102},{"basin":"Sespe Creek, CA","date":"2015-06-11","flow":0.081},{"basin":"Sespe Creek, CA","date":"2015-06-17","flow":0.057},{"basin":"Sespe Creek, CA","date":"2015-06-29","flow":0.032},{"basin":"Sespe Creek, CA","date":"2015-07-11","flow":0.057},{"basin":"Sespe Creek, CA","date":"2015-07-18","flow":0.26},{"basin":"Sespe Creek, CA","date":"2015-07-24","flow":0.064},{"basin":"Sespe Creek, CA","date":"2015-08-05","flow":0.040},{"basin":"Sespe Creek, CA","date":"2015-08-18","flow":0.025},{"basin":"Sespe Creek, CA","date":"2015-08-30","flow":0.045},{"basin":"Sespe Creek, CA","date":"2015-09-06","flow":0.025},{"basin":"Sespe Creek, CA","date":"2015-09-18","flow":0.032},{"basin":"Sespe Creek, CA","date":"2015-09-24","flow":0.064},{"basin":"Sespe Creek, CA","date":"2015-10-06","flow":0.040},{"basin":"Sespe Creek, CA","date":"2015-10-18","flow":0.057},{"basin":"Sespe Creek, CA","date":"2015-10-31","flow":0.064},{"basin":"Sespe Creek, CA","date":"2015-11-12","flow":0.072},{"basin":"Sespe Creek, CA","date":"2015-11-24","flow":0.076},{"basin":"Sespe Creek, CA","date":"2015-12-04","flow":0.081},{"basin":"Sespe Creek, CA","date":"2015-12-17","flow":0.091},{"basin":"Sespe Creek, CA","date":"2015-12-29","flow":0.102},{"basin":"Sespe Creek, CA","date":"2016-01-04","flow":0.115},{"basin":"Sespe Creek, CA","date":"2016-01-07","flow":4.8},{"basin":"Sespe Creek, CA","date":"2016-01-12","flow":0.59},{"basin":"Sespe Creek, CA","date":"2016-01-19","flow":0.18},{"basin":"Sespe Creek, CA","date":"2016-01-24","flow":12.2},{"basin":"Sespe Creek, CA","date":"2016-01-29","flow":0.59},{"basin":"Sespe Creek, CA","date":"2016-02-01","flow":15.5},{"basin":"Sespe Creek, CA","date":"2016-02-05","flow":1.18},{"basin":"Sespe Creek, CA","date":"2016-02-16","flow":0.47},{"basin":"Sespe Creek, CA","date":"2016-02-22","flow":1.18},{"basin":"Sespe Creek, CA","date":"2016-02-28","flow":3.0},{"basin":"Sespe Creek, CA","date":"2016-03-05","flow":0.47},{"basin":"Sespe Creek, CA","date":"2016-03-11","flow":1.89},{"basin":"Sespe Creek, CA","date":"2016-03-17","flow":0.59},{"basin":"Sespe Creek, CA","date":"2016-03-29","flow":0.47},{"basin":"Sespe Creek, CA","date":"2016-04-11","flow":0.29},{"basin":"Sespe Creek, CA","date":"2016-04-23","flow":0.23},{"basin":"Sespe Creek, CA","date":"2016-05-05","flow":0.206},{"basin":"Sespe Creek, CA","date":"2016-05-11","flow":0.163},{"basin":"Sespe Creek, CA","date":"2016-05-23","flow":0.145},{"basin":"Sespe Creek, CA","date":"2016-06-04","flow":0.115},{"basin":"Sespe Creek, CA","date":"2016-06-16","flow":0.072},{"basin":"Sespe Creek, CA","date":"2016-06-22","flow":0.036},{"basin":"Sespe Creek, CA","date":"2016-06-28","flow":0.0225},{"basin":"Sespe Creek, CA","date":"2016-07-05","flow":0.0141},{"basin":"Sespe Creek, CA","date":"2016-07-11","flow":0.0225},{"basin":"Sespe Creek, CA","date":"2016-07-17","flow":0.0079},{"basin":"Sespe Creek, CA","date":"2016-07-23","flow":0.0035},{"basin":"Sespe Creek, CA","date":"2016-07-29","flow":0.00245},{"basin":"Sespe Creek, CA","date":"2016-08-04","flow":0.0089},{"basin":"Sespe Creek, CA","date":"2016-08-10","flow":0.0159},{"basin":"Sespe Creek, CA","date":"2016-08-16","flow":0.01},{"basin":"Sespe Creek, CA","date":"2016-08-22","flow":0.0159},{"basin":"Sespe Creek, CA","date":"2016-08-28","flow":0.0225},{"basin":"Sespe Creek, CA","date":"2016-09-04","flow":0.036},{"basin":"Sespe Creek, CA","date":"2016-09-10","flow":0.025},{"basin":"Sespe Creek, CA","date":"2016-09-16","flow":0.040},{"basin":"Sespe Creek, CA","date":"2016-09-22","flow":0.025},{"basin":"Sespe Creek, CA","date":"2016-09-28","flow":0.040},{"basin":"Sespe Creek, CA","date":"2016-10-04","flow":0.045},{"basin":"Sespe Creek, CA","date":"2016-10-11","flow":0.064},{"basin":"Sespe Creek, CA","date":"2016-10-16","flow":0.072},{"basin":"Sespe Creek, CA","date":"2016-10-23","flow":0.091},{"basin":"Sespe Creek, CA","date":"2016-10-29","flow":0.102},{"basin":"Sespe Creek, CA","date":"2016-11-04","flow":0.064},{"basin":"Sespe Creek, CA","date":"2016-11-10","flow":0.091},{"basin":"Sespe Creek, CA","date":"2016-11-22","flow":0.102},{"basin":"Sespe Creek, CA","date":"2016-12-05","flow":0.081},{"basin":"Sespe Creek, CA","date":"2016-12-11","flow":0.102},{"basin":"Sespe Creek, CA","date":"2016-12-17","flow":0.091},{"basin":"Sespe Creek, CA","date":"2016-12-21","flow":0.59},{"basin":"Sespe Creek, CA","date":"2016-12-23","flow":3.8},{"basin":"Sespe Creek, CA","date":"2016-12-27","flow":0.23},{"basin":"Sespe Creek, CA","date":"2016-12-29","flow":3.8},{"basin":"Sespe Creek, CA","date":"2017-01-04","flow":2.4},{"basin":"Sespe Creek, CA","date":"2017-01-10","flow":19.5},{"basin":"Sespe Creek, CA","date":"2017-01-14","flow":0.74},{"basin":"Sespe Creek, CA","date":"2017-01-20","flow":39},{"basin":"Sespe Creek, CA","date":"2017-01-25","flow":11},{"basin":"Sespe Creek, CA","date":"2017-01-28","flow":89},{"basin":"Sespe Creek, CA","date":"2017-02-03","flow":49},{"basin":"Sespe Creek, CA","date":"2017-02-08","flow":27.5},{"basin":"Sespe Creek, CA","date":"2017-02-11","flow":158},{"basin":"Sespe Creek, CA","date":"2017-02-16","flow":282},{"basin":"Sespe Creek, CA","date":"2017-02-19","flow":100},{"basin":"Sespe Creek, CA","date":"2017-02-25","flow":35},{"basin":"Sespe Creek, CA","date":"2017-03-06","flow":15.5},{"basin":"Sespe Creek, CA","date":"2017-03-12","flow":7.6},{"basin":"Sespe Creek, CA","date":"2017-03-25","flow":3.8},{"basin":"Sespe Creek, CA","date":"2017-04-06","flow":1.89},{"basin":"Sespe Creek, CA","date":"2017-04-18","flow":1.33},{"basin":"Sespe Creek, CA","date":"2017-04-30","flow":0.885},{"basin":"Sespe Creek, CA","date":"2017-05-13","flow":0.83},{"basin":"Sespe Creek, CA","date":"2017-05-25","flow":0.59},{"basin":"Sespe Creek, CA","date":"2017-06-06","flow":0.29},{"basin":"Sespe Creek, CA","date":"2017-06-19","flow":0.206},{"basin":"Sespe Creek, CA","date":"2017-07-01","flow":0.145},{"basin":"Sespe Creek, CA","date":"2017-07-08","flow":0.129},{"basin":"Sespe Creek, CA","date":"2017-07-20","flow":0.145},{"basin":"Sespe Creek, CA","date":"2017-07-26","flow":0.145},{"basin":"Sespe Creek, CA","date":"2017-08-07","flow":0.115},{"basin":"Sespe Creek, CA","date":"2017-08-20","flow":0.072},{"basin":"Sespe Creek, CA","date":"2017-08-26","flow":0.045},{"basin":"Sespe Creek, CA","date":"2017-09-01","flow":0.0225},{"basin":"Sespe Creek, CA","date":"2017-09-07","flow":0.0141},{"basin":"Sespe Creek, CA","date":"2017-09-13","flow":0.025},{"basin":"Sespe Creek, CA","date":"2017-09-18","flow":0.0225},{"basin":"Sespe Creek, CA","date":"2017-09-25","flow":0.0141},{"basin":"Sespe Creek, CA","date":"2017-10-01","flow":0.0089},{"basin":"Sespe Creek, CA","date":"2017-10-07","flow":0.01},{"basin":"Sespe Creek, CA","date":"2017-10-13","flow":0.007},{"basin":"Sespe Creek, CA","date":"2017-10-19","flow":0.0044},{"basin":"Sespe Creek, CA","date":"2017-10-25","flow":0.00275},{"basin":"Sespe Creek, CA","date":"2017-10-31","flow":0.007},{"basin":"Sespe Creek, CA","date":"2017-11-06","flow":0.0049},{"basin":"Sespe Creek, CA","date":"2017-11-12","flow":0.0055},{"basin":"Sespe Creek, CA","date":"2017-11-18","flow":0.0035},{"basin":"Sespe Creek, CA","date":"2017-11-24","flow":0.0044},{"basin":"Sespe Creek, CA","date":"2017-11-30","flow":0.00219},{"basin":"Sespe Creek, CA","date":"2017-12-06","flow":0.0044},{"basin":"Sespe Creek, CA","date":"2017-12-12","flow":0.0035},{"basin":"Sespe Creek, CA","date":"2017-12-19","flow":0.0062},{"basin":"Sespe Creek, CA","date":"2017-12-25","flow":0.0044},{"basin":"Sespe Creek, CA","date":"2017-12-31","flow":0.0031},{"basin":"Sespe Creek, CA","date":"2018-01-06","flow":0.0039},{"basin":"Sespe Creek, CA","date":"2018-01-10","flow":8.6},{"basin":"Sespe Creek, CA","date":"2018-01-15","flow":2.7},{"basin":"Sespe Creek, CA","date":"2018-01-18","flow":1.5},{"basin":"Sespe Creek, CA","date":"2018-01-25","flow":0.94},{"basin":"Sespe Creek, CA","date":"2018-02-06","flow":0.29},{"basin":"Sespe Creek, CA","date":"2018-02-18","flow":0.206},{"basin":"Sespe Creek, CA","date":"2018-02-24","flow":0.206},{"basin":"Sespe Creek, CA","date":"2018-03-03","flow":0.23},{"basin":"Sespe Creek, CA","date":"2018-03-09","flow":1.5},{"basin":"Sespe Creek, CA","date":"2018-03-15","flow":3.8},{"basin":"Sespe Creek, CA","date":"2018-03-18","flow":0.37},{"basin":"Sespe Creek, CA","date":"2018-03-23","flow":70},{"basin":"Sespe Creek, CA","date":"2018-03-29","flow":12.2},{"basin":"Sespe Creek, CA","date":"2018-04-05","flow":1.5},{"basin":"Sespe Creek, CA","date":"2018-04-14","flow":0.83},{"basin":"Sespe Creek, CA","date":"2018-04-20","flow":0.66},{"basin":"Sespe Creek, CA","date":"2018-05-03","flow":0.52},{"basin":"Sespe Creek, CA","date":"2018-05-09","flow":0.415},{"basin":"Sespe Creek, CA","date":"2018-05-15","flow":0.59},{"basin":"Sespe Creek, CA","date":"2018-05-27","flow":0.37},{"basin":"Sespe Creek, CA","date":"2018-06-08","flow":0.206},{"basin":"Sespe Creek, CA","date":"2018-06-20","flow":0.129},{"basin":"Sespe Creek, CA","date":"2018-07-02","flow":0.145},{"basin":"Sespe Creek, CA","date":"2018-07-15","flow":0.102},{"basin":"Sespe Creek, CA","date":"2018-07-27","flow":0.091},{"basin":"Sespe Creek, CA","date":"2018-08-02","flow":0.057},{"basin":"Sespe Creek, CA","date":"2018-08-08","flow":0.019},{"basin":"Sespe Creek, CA","date":"2018-08-14","flow":0.057},{"basin":"Sespe Creek, CA","date":"2018-08-21","flow":0.064},{"basin":"Sespe Creek, CA","date":"2018-09-02","flow":0.057},{"basin":"Sespe Creek, CA","date":"2018-09-14","flow":0.045},{"basin":"Sespe Creek, CA","date":"2018-09-26","flow":0.0225},{"basin":"Sespe Creek, CA","date":"2018-10-02","flow":0.0089},{"basin":"Sespe Creek, CA","date":"2018-10-08","flow":0.036},{"basin":"Sespe Creek, CA","date":"2018-10-20","flow":0.045},{"basin":"Sespe Creek, CA","date":"2018-11-01","flow":0.057},{"basin":"Sespe Creek, CA","date":"2018-11-13","flow":0.072},{"basin":"Sespe Creek, CA","date":"2018-11-19","flow":0.091},{"basin":"Sespe Creek, CA","date":"2018-11-25","flow":0.33},{"basin":"Sespe Creek, CA","date":"2018-12-01","flow":12.2},{"basin":"Sespe Creek, CA","date":"2018-12-08","flow":0.83},{"basin":"Sespe Creek, CA","date":"2018-12-13","flow":0.47},{"basin":"Sespe Creek, CA","date":"2018-12-20","flow":0.29},{"basin":"Sespe Creek, CA","date":"2019-01-02","flow":0.23},{"basin":"Sespe Creek, CA","date":"2019-01-06","flow":0.59},{"basin":"Sespe Creek, CA","date":"2019-01-09","flow":15.5},{"basin":"Sespe Creek, CA","date":"2019-01-14","flow":2.4},{"basin":"Sespe Creek, CA","date":"2019-01-20","flow":427},{"basin":"Sespe Creek, CA","date":"2019-01-24","flow":49},{"basin":"Sespe Creek, CA","date":"2019-01-26","flow":3.0},{"basin":"Sespe Creek, CA","date":"2019-01-30","flow":2.4},{"basin":"Sespe Creek, CA","date":"2019-02-04","flow":427},{"basin":"Sespe Creek, CA","date":"2019-02-07","flow":89},{"basin":"Sespe Creek, CA","date":"2019-02-14","flow":19.5},{"basin":"Sespe Creek, CA","date":"2019-02-20","flow":12.2},{"basin":"Sespe Creek, CA","date":"2019-02-26","flow":27.5},{"basin":"Sespe Creek, CA","date":"2019-03-02","flow":7.6},{"basin":"Sespe Creek, CA","date":"2019-03-07","flow":105},{"basin":"Sespe Creek, CA","date":"2019-03-10","flow":8.6},{"basin":"Sespe Creek, CA","date":"2019-03-16","flow":12.2},{"basin":"Sespe Creek, CA","date":"2019-03-22","flow":6.8},{"basin":"Sespe Creek, CA","date":"2019-03-29","flow":5.4},{"basin":"Sespe Creek, CA","date":"2019-04-10","flow":3.0},{"basin":"Sespe Creek, CA","date":"2019-04-22","flow":1.68},{"basin":"Sespe Creek, CA","date":"2019-04-28","flow":1.78},{"basin":"Sespe Creek, CA","date":"2019-05-05","flow":2.0},{"basin":"Sespe Creek, CA","date":"2019-05-11","flow":2.2},{"basin":"Sespe Creek, CA","date":"2019-05-17","flow":2.1},{"basin":"Sespe Creek, CA","date":"2019-05-20","flow":3.8},{"basin":"Sespe Creek, CA","date":"2019-05-24","flow":3.3},{"basin":"Sespe Creek, CA","date":"2019-05-29","flow":2.4},{"basin":"Sespe Creek, CA","date":"2019-06-11","flow":1.89},{"basin":"Sespe Creek, CA","date":"2019-06-23","flow":1.33},{"basin":"Sespe Creek, CA","date":"2019-07-05","flow":0.74},{"basin":"Sespe Creek, CA","date":"2019-07-11","flow":0.59},{"basin":"Sespe Creek, CA","date":"2019-07-17","flow":0.206},{"basin":"Sespe Creek, CA","date":"2019-07-30","flow":0.206},{"basin":"Sespe Creek, CA","date":"2019-08-11","flow":0.215},{"basin":"Sespe Creek, CA","date":"2019-08-23","flow":0.23},{"basin":"Sespe Creek, CA","date":"2019-08-29","flow":0.26},{"basin":"Sespe Creek, CA","date":"2019-09-04","flow":0.27},{"basin":"Sespe Creek, CA","date":"2019-09-16","flow":0.23},{"basin":"Sespe Creek, CA","date":"2019-09-22","flow":0.206},{"basin":"Sespe Creek, CA","date":"2019-09-27","flow":0.25},{"basin":"Sespe Creek, CA","date":"2019-09-30","flow":0.206}
  ]},
  "mark": {"type": "line", "strokeWidth": 1.5, "strokeJoin": "round"},
  "encoding": {
    "x": {
      "field": "date", "type": "temporal",
      "scale": {"type": "utc", "domain": [{"year": 2013, "month": 6, "date": 17, "utc": true}, {"year": 2020, "month": 1, "date": 18, "utc": true}]},
      "title": "Date",
      "axis": {
        "values": [{"year": 2014, "utc": true}, {"year": 2015, "utc": true}, {"year": 2016, "utc": true}, {"year": 2017, "utc": true}, {"year": 2018, "utc": true}, {"year": 2019, "utc": true}, {"year": 2020, "utc": true}],
        "labelExpr": "utcyear(datum.value) % 2 == 0 ? utcFormat(datum.value, '%Y') : ''",
        "labelOverlap": false,
        "domain": false,
        "tickColor": "#333333", "tickSize": 4, "tickWidth": 1,
        "tickOpacity": {"condition": {"test": "utcyear(datum.value) % 2 == 0", "value": 1}, "value": 0},
        "gridColor": "#EBEBEB",
        "gridWidth": {"condition": {"test": "utcyear(datum.value) % 2 == 0", "value": 1.1}, "value": 0.55},
        "labelColor": "#4D4D4D", "labelFontSize": 14, "labelPadding": 2, "labelFont": "Liberation Sans",
        "titleFontSize": 17, "titleFontWeight": "normal", "titleColor": "#000000", "titlePadding": 1, "titleFont": "Liberation Sans"
      }
    },
    "y": {
      "field": "flow", "type": "quantitative",
      "scale": {"type": "log", "domain": [0.00113, 1190], "nice": false},
      "title": "Daily Flow (m³/s)",
      "axis": {
        "values": [0.01, 0.1, 1, 10, 100, 1000],
        "labelExpr": "datum.value == 1000 ? '1e+03' : datum.value == 10 ? '1e+01' : datum.value == 0.1 ? '1e-01' : ''",
        "labelOverlap": false,
        "domain": false,
        "tickColor": "#333333", "tickSize": 4, "tickWidth": 1,
        "tickOpacity": {"condition": {"test": "datum.value == 1000 || datum.value == 10 || datum.value == 0.1", "value": 1}, "value": 0},
        "gridColor": "#EBEBEB",
        "gridWidth": {"condition": {"test": "datum.value == 1000 || datum.value == 10 || datum.value == 0.1", "value": 1.1}, "value": 0.55},
        "labelColor": "#4D4D4D", "labelFontSize": 14, "labelPadding": 2, "labelFont": "Liberation Sans",
        "titleFontSize": 17, "titleFontWeight": "normal", "titleColor": "#000000", "titlePadding": 16, "titleFont": "Liberation Sans"
      }
    },
    "color": {
      "field": "basin", "type": "nominal",
      "scale": {"domain": ["San Lorenzo R., CA", "Sespe Creek, CA", "Siletz River, OR"], "range": ["#2E8B57", "#FC4E07", "#2E9FDF"]},
      "legend": {
        "title": "Basin",
        "orient": "none", "legendX": 684, "legendY": 148,
        "titleFontSize": 16, "titleFontWeight": "normal", "titleColor": "#000000", "titleFont": "Liberation Sans", "titlePadding": 13,
        "symbolType": "M-0.78,0H1.78", "symbolSize": 324, "symbolStrokeWidth": 1.5,
        "labelFontSize": 14, "labelColor": "#000000", "labelFont": "Liberation Sans", "labelOffset": 20,
        "rowPadding": 0.7
      }
    }
  }
}
